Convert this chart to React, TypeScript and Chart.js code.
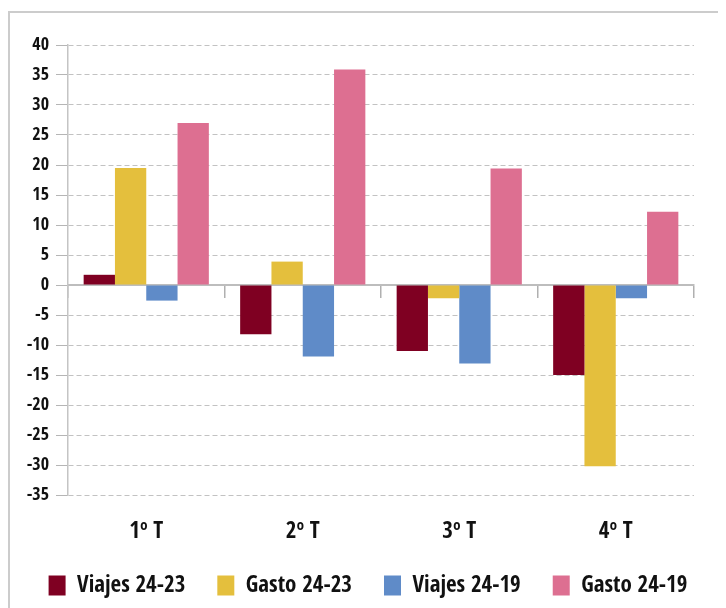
import React, { useEffect, useRef } from "react";
import { Chart, registerables } from "chart.js";

Chart.register(...registerables);

const categories = ["1º T", "2º T", "3º T", "4º T"];
const seriesNames = ["Viajes 24-23", "Gasto 24-23", "Viajes 24-19", "Gasto 24-19"];
const viajes2423 = [1.7, -8.2, -11, -15];
const gasto2423 = [19.5, 3.9, -2.2, -30.2];
const viajes2419 = [-2.6, -11.9, -13.1, -2.2];
const gasto2419 = [27.0, 35.9, 19.4, 12.2];
const seriesColors = ["#7f0022", "#e4bf3d", "#5f8bc8", "#dd6f91"];
const yMin = -35;
const yMax = 40;
const yStep = 5;

const FONT = "'Open Sans Condensed', 'Roboto Condensed', 'Liberation Sans', sans-serif";

export default function App() {
  const ref = useRef<HTMLCanvasElement | null>(null);

  useEffect(() => {
    if (!ref.current) return;
    const values = [viajes2423, gasto2423, viajes2419, gasto2419];
    const chart = new Chart(ref.current, {
      type: "bar",
      data: {
        labels: categories,
        datasets: values.map((v, i) => ({
          label: seriesNames[i],
          data: v,
          backgroundColor: seriesColors[i],
          borderColor: seriesColors[i],
          borderWidth: 0,
          categoryPercentage: 0.8,
          barPercentage: 1.0,
        })),
      },
      options: {
        responsive: false,
        animation: false,
        layout: { padding: { left: 0, right: 0, top: 32, bottom: 1 } },
        plugins: {
          tooltip: { enabled: false },
          legend: {
            position: "bottom",
            labels: {
              boxWidth: 17,
              boxHeight: 20,
              padding: 32,
              color: "#111",
              font: { family: FONT, size: 23, weight: "bold" },
            },
          },
        },
        scales: {
          x: {
            offset: true,
            grid: { display: false, offset: true, drawTicks: false },
            border: { display: false },
            ticks: {
              padding: 25,
              color: "#111",
              autoSkip: false,
              maxRotation: 0,
              font: { family: FONT, size: 23, weight: "bold", lineHeight: 1.0 },
            },
            afterFit: (s: any) => {
              s.height = 47;
            },
          },
          x0: {
            type: "category",
            position: { y: 0 } as any,
            offset: true,
            grid: {
              offset: true,
              drawOnChartArea: false,
              drawTicks: true,
              tickLength: 12,
              color: "#b0b0b0",
              tickColor: "#b0b0b0",
              lineWidth: 1.5,
            },
            border: { display: true, color: "#bdbdbd", width: 2 },
            ticks: { display: false },
            afterFit: (s: any) => {
              s.height = 0;
            },
          },
          y: {
            min: yMin,
            max: yMax,
            ticks: {
              stepSize: yStep,
              padding: 7,
              autoSkip: false,
              color: "#111",
              font: { family: FONT, size: 18, weight: "bold" },
            },
            grid: {
              color: "#c2c2c2",
              tickColor: "#b5b5b5",
              tickLength: 12,
              lineWidth: 1,
            },
            border: { display: true, color: "#c4c4c4", width: 1.5, dash: [5, 3] },
            afterFit: (s: any) => {
              s.width = 58;
            },
          },
          yR: {
            type: "linear",
            position: "right",
            grid: { display: false },
            border: { display: false },
            ticks: { display: false },
            afterFit: (s: any) => {
              s.width = 32;
            },
          },
        },
      } as any,
    });
    return () => chart.destroy();
  }, []);

  return (
    <div
      style={{
        marginTop: 3,
        width: 718,
        height: 597,
        boxSizing: "border-box",
        borderTop: "2px solid #cccccc",
        borderLeft: "2px solid #cccccc",
        overflow: "hidden",
        background: "#fff",
      }}
    >
      <canvas ref={ref} width={716} height={595} style={{ display: "block" }} />
    </div>
  );
}
